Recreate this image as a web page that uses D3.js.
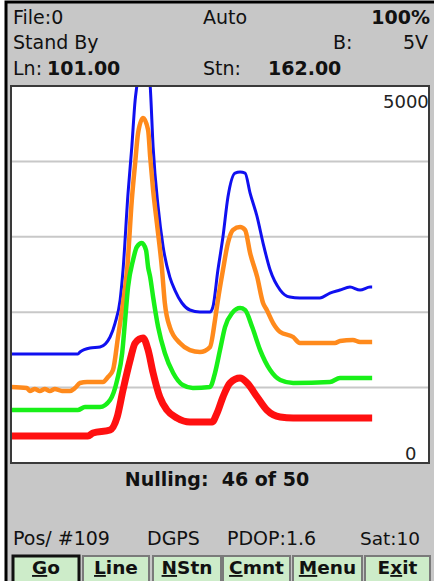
<!DOCTYPE html>
<html><head><meta charset="utf-8">
<script src="https://cdn.jsdelivr.net/npm/d3@7"></script>
<style>
html,body{margin:0;padding:0;background:#fff;}
svg{display:block;}
text{font-family:"DejaVu Sans",sans-serif;white-space:pre;}
</style></head>
<body>
<svg id="c" width="434" height="581"></svg>
<script>
// ---- data (x = sample position 0..100, value = signal 0..5000) ----
const blue = [[0,1445],[16.0,1445],[16.5,1472],[18.9,1525],[21.3,1538],[23.7,1671],[24.9,1856],[26.1,2161],[26.8,2559],[28.0,3580],[28.9,4190],[29.7,4813],[30.1,5000],[31.6,5700],[33.3,5000],[34.0,4190],[35.2,3395],[36.4,2864],[38.0,2466],[39.2,2294],[40.9,2122],[42.8,2029],[45.2,2002],[47.6,2002],[48.3,2069],[49.5,2559],[50.7,2997],[51.9,3527],[53.6,3845],[54.8,3859],[56.0,3845],[57.2,3580],[58.9,3262],[60.3,2917],[62.0,2559],[64.4,2294],[66.7,2201],[69.1,2188],[73.9,2188],[76.3,2254],[78.7,2294],[81.1,2334],[83.5,2294],[85.9,2334],[86.4,2334]];
const orange = [[0,1008],[3.8,994],[4.5,955],[5.7,981],[6.9,955],[8.1,981],[9.3,955],[10.5,981],[12.2,955],[14.1,955],[15.3,994],[16.5,1061],[18.2,1074],[22.0,1074],[23.2,1140],[24.4,1233],[25.6,1671],[26.8,2122],[27.8,2572],[28.9,3487],[29.7,3978],[30.4,4376],[31.6,4575],[32.8,4416],[33.3,4058],[34.0,3620],[34.9,3182],[36.1,2586],[36.8,2122],[38.0,1803],[40.4,1591],[42.8,1498],[45.2,1472],[47.6,1538],[48.8,1896],[49.5,2161],[50.7,2559],[51.9,2917],[53.1,3090],[54.8,3129],[56.0,3090],[57.2,2785],[58.9,2466],[60.3,2122],[61.2,2029],[62.7,1856],[64.4,1737],[67.5,1671],[69.1,1591],[77.5,1591],[78.7,1618],[81.8,1631],[83.5,1604],[86.4,1604]];
const green = [[0,703],[16.0,703],[17.7,743],[21.3,743],[23.7,835],[25.4,1101],[26.6,1459],[27.3,1896],[28.0,2334],[29.2,2692],[30.1,2864],[31.3,2917],[32.3,2824],[32.8,2599],[33.3,2466],[34.0,2201],[35.2,1803],[36.8,1459],[38.8,1193],[41.1,1034],[43.5,995],[47.6,1008],[48.8,1193],[50.0,1498],[51.2,1803],[52.9,1989],[54.8,2055],[56.0,2029],[57.7,1803],[59.6,1498],[62.0,1233],[64.4,1101],[67.5,1061],[76.3,1074],[78.7,1127],[86.4,1127]];
const red = [[0,358],[18.4,358],[19.6,398],[23.7,438],[25.4,610],[26.8,968],[28.5,1366],[29.7,1591],[31.6,1658],[32.8,1498],[34.0,1193],[35.6,875],[37.3,703],[39.7,597],[42.8,544],[48.1,544],[49.3,663],[50.7,875],[52.4,1061],[54.8,1127],[56.5,1061],[58.9,875],[61.2,703],[64.4,610],[67.5,597],[86.4,597]];
const seriesNames = ["blue","orange","green","red"];
const gridValues = [1000,2000,3000,4000];
const yLabels = ["5000","0"];
const headerRow1 = ["File:0","Auto","100%"];
const headerRow2 = ["Stand By","B:","5V"];
const headerRow3 = ["Ln:","101.00","Stn:","162.00"];
const statusText = "Nulling:  46 of 50";
const footerTexts = ["Pos/ #109","DGPS","PDOP:1.6","Sat:10"];
const buttons = [["G","o"],["L","ine"],["N","Stn"],["C","mnt"],["M","enu"],["E","x","it"]];

const svg = d3.select("#c");
const W=434,H=581;
// frame
svg.append("rect").attr("x",6).attr("y",2).attr("width",W).attr("height",H).attr("fill","#c7c7c7").attr("stroke","#000").attr("stroke-width",3);

const P = {l:11,r:429,t:86,b:463};
const x = d3.scaleLinear().domain([0,100]).range([P.l,P.r]);
const y = d3.scaleLinear().domain([0,5000]).range([P.b,P.t]);

svg.append("rect").attr("x",P.l).attr("y",P.t).attr("width",P.r-P.l).attr("height",P.b-P.t).attr("fill","#fff");
svg.append("defs").append("clipPath").attr("id","pc").append("rect")
  .attr("x",P.l).attr("y",P.t).attr("width",P.r-P.l).attr("height",P.b-P.t);

svg.append("g").selectAll("line").data(gridValues).join("line")
  .attr("x1",P.l).attr("x2",P.r).attr("y1",d=>y(d)).attr("y2",d=>y(d))
  .attr("stroke","#c8c8c8").attr("stroke-width",2);

const colors = {blue:"#1010f0",orange:"#ff8a1c",green:"#18f018",red:"#ff1010"};
const widths = {blue:3,orange:4.5,green:4.5,red:7};
const dataMap = {blue,orange,green,red};
const line = d3.line().x(d=>x(d[0])).y(d=>y(d[1])).curve(d3.curveMonotoneX);
const lg = svg.append("g").attr("clip-path","url(#pc)");
seriesNames.forEach(n=>{
  lg.append("path").attr("d",line(dataMap[n])).attr("fill","none")
    .attr("stroke",colors[n]).attr("stroke-width",widths[n])
    .attr("stroke-linejoin","round").attr("stroke-linecap","butt");
});

// y labels
const lblG = svg.append("g").attr("clip-path","url(#pc)");
lblG.append("text").attr("x",383).attr("y",108).attr("font-size",18).attr("fill","#222").text(yLabels[0]);
lblG.append("text").attr("x",405).attr("y",460).attr("font-size",18).attr("fill","#222").text(yLabels[1]);

svg.append("rect").attr("x",P.l).attr("y",P.t).attr("width",P.r-P.l).attr("height",P.b-P.t)
  .attr("fill","none").attr("stroke","#3a3a3a").attr("stroke-width",2);

// header
const fs=19;
function t(txt,xx,yy,opt={}){
  const e=svg.append("text").attr("x",xx).attr("y",yy).attr("font-size",opt.fs||fs).attr("fill","#111")
    .attr("font-weight",opt.bold?"bold":null).attr("text-anchor",opt.anchor||"start").text(txt);
  return e;
}
t(headerRow1[0],13,24);
t(headerRow1[1],203,24);
t(headerRow1[2],430,24,{bold:true,anchor:"end"});
t(headerRow2[0],13,49);
t(headerRow2[1],333,49);
t(headerRow2[2],428,49,{anchor:"end"});
t(headerRow3[0],13,75);
t(headerRow3[1],47,75,{bold:true});
t(headerRow3[2],203,75);
t(headerRow3[3],268,75,{bold:true});

t(statusText,217,486,{bold:true,anchor:"middle",fs:19});

t(footerTexts[0],13,545);
t(footerTexts[1],147,545);
t(footerTexts[2],227,545);
t(footerTexts[3],360,545,{fs:18.5});

// buttons
const bx = [[13,79],[83,149],[153,221],[223,290],[293,362],[365,430]];
const bg = svg.append("g");
buttons.forEach((b,i)=>{
  const [a,c]=bx[i];
  bg.append("rect").attr("x",a).attr("y",556).attr("width",c-a).attr("height",30)
    .attr("fill","#cdecc9").attr("stroke",i===0?"#111":"#7a7a7a").attr("stroke-width",i===0?3:2);
  const tx = bg.append("text").attr("x",(a+c)/2).attr("y",574).attr("text-anchor","middle")
    .attr("font-size",18.5).attr("font-weight","bold").attr("fill","#111");
  if(b.length===2){
    tx.append("tspan").style("text-decoration","underline").text(b[0]);
    tx.append("tspan").text(b[1]);
  } else {
    tx.append("tspan").text(b[0]);
    tx.append("tspan").style("text-decoration","underline").text(b[1]);
    tx.append("tspan").text(b[2]);
  }
});
</script>
</body></html>
